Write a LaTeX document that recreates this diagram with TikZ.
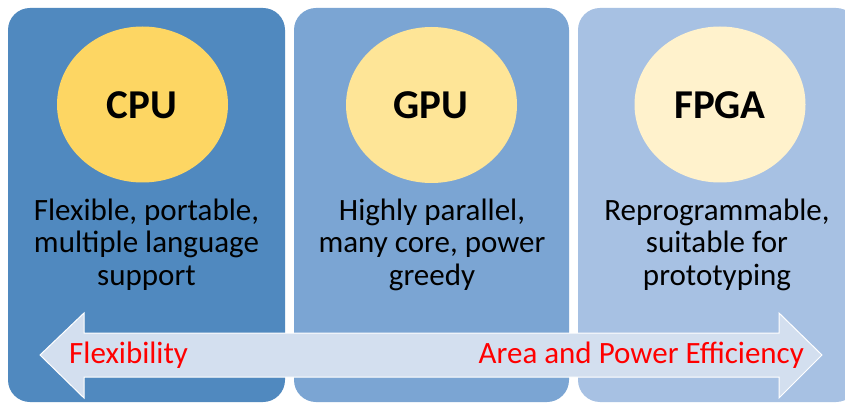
\documentclass[tikz,border=0pt]{standalone}
\usepackage{fontspec}
\setmainfont{Carlito}
\usetikzlibrary{shapes.geometric}
\definecolor{pA}{RGB}{80,137,191}
\definecolor{pB}{RGB}{123,165,211}
\definecolor{pC}{RGB}{167,193,227}
\definecolor{eA}{RGB}{253,214,99}
\definecolor{eB}{RGB}{254,229,151}
\definecolor{eC}{RGB}{255,242,204}
\definecolor{arr}{RGB}{211,223,239}
\begin{document}
\begin{tikzpicture}[x=1pt,y=-1pt,
  panel/.style={fill=#1,draw=none,rounded corners=22pt},
  chip/.style={ellipse,fill=#1,draw=none,minimum width=171pt,minimum height=156pt,inner sep=0pt},
  chiptext/.style={font=\fontsize{41}{49}\selectfont\bfseries,anchor=base},
  desc/.style={font=\fontsize{31}{32.5}\selectfont,align=center,anchor=base},
  axislabel/.style={font=\fontsize{31}{33}\selectfont,text=red,inner sep=0pt}]
\useasboundingbox (0,0) rectangle (845,403);
\fill[white] (0,0) rectangle (845,403);
\begin{scope}
\clip (0,0) rectangle (845,403);
\fill[panel=pA] (8,8) rectangle (285,402);
\fill[panel=pB] (294,8) rectangle (569,402);
\fill[panel=pC] (578,8) rectangle (858,402);
\end{scope}
\node[chip=eA] (cpu) at (142.5,104.5) {};
\node[chip=eB] (gpu) at (431.5,105) {};
\node[chip=eC] (fpga) at (720,104.5) {};
\node[chiptext] (cput) at (142,119) {CPU};
\node[chiptext] (gput) at (430.5,119) {GPU};
\node[chiptext] (fpgat) at (720,119) {FPGA};
\node[desc] (cpud) at (146.5,285) {Flexible, portable,\\multiple language\\support};
\node[desc] (gpud) at (432,285) {Highly parallel,\\many core, power\\greedy};
\node[desc] (fpgad) at (717,285) {Reprogrammable,\\suitable for\\prototyping};
\draw[fill=arr,draw=white,line width=1pt,line join=miter]
  (40,355) -- (84,313) -- (84,333) -- (779,333) -- (779,313) -- (822,355)
  -- (779,398) -- (779,377) -- (84,377) -- (84,398) -- cycle;
\node[axislabel,anchor=base west] (flex) at (69,363) {Flexibility};
\node[axislabel,anchor=base east] (eff) at (804,363) {Area and Power Efficiency};
\end{tikzpicture}
\end{document}
